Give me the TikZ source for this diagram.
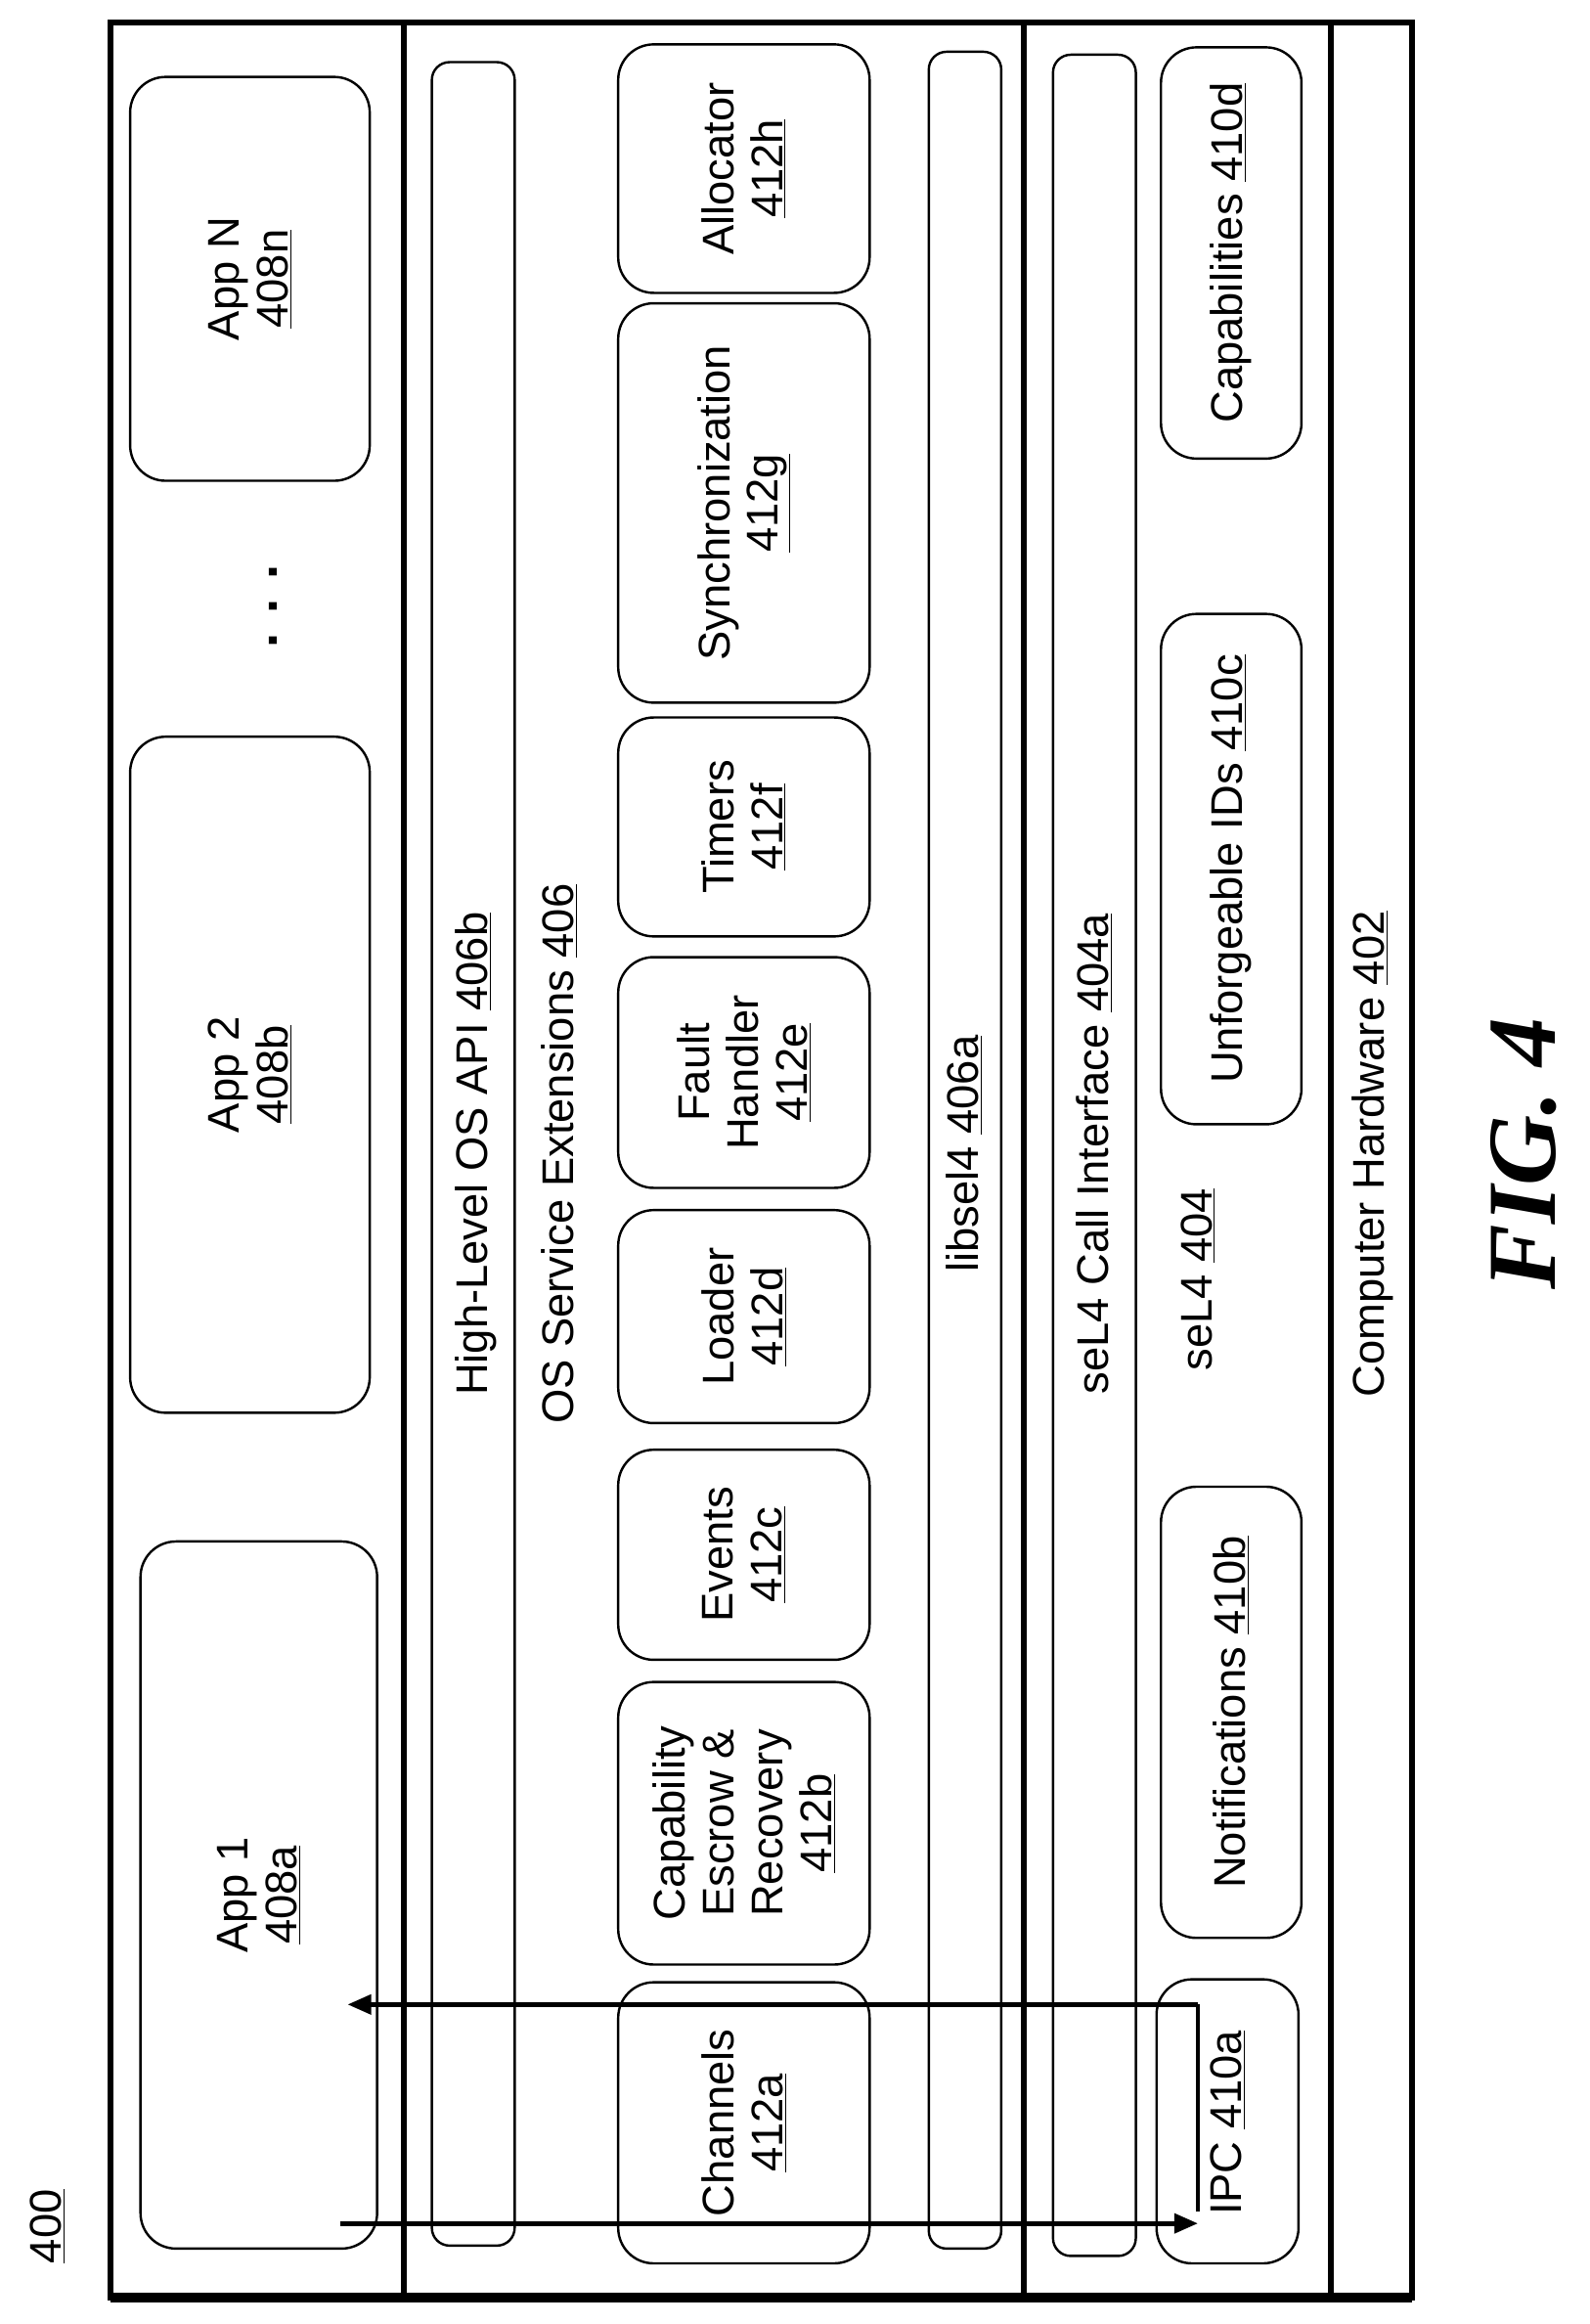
\documentclass[tikz,border=0pt]{standalone}
\usepackage{fontspec}
\setmainfont{Liberation Sans}
\newfontfamily\figfont{Liberation Serif}
\usetikzlibrary{fit,arrows.meta}
\tikzset{
  box/.style={draw, line width=1.6pt, rounded corners=24pt, inner sep=0pt},
  bar/.style={box, rounded corners=12pt},
  lbl/.style={rotate=90, align=center, font=\fontsize{30}{33}\selectfont, inner sep=0pt},
  thick line/.style={line width=4pt},
  arr/.style={line width=3.2pt, -{Triangle[length=16pt,width=13pt]}},
}
\newcommand{\bx}[6]{\node[box, fit={(#2,-#3) (#4,-#5)}] (#1) {}; \node[lbl] (#1t) at (#1) {#6};}
\newcommand{\br}[5]{\node[bar, fit={(#2,-#3) (#4,-#5)}] (#1) {};}
\begin{document}
\begin{tikzpicture}[x=1pt,y=1pt]
\useasboundingbox (0,0) rectangle (1075,-1571);
% frame
\draw[thick line] (75,-15) rectangle (955,-1553);
\draw[line width=7pt] (75,-1553) -- (955,-1553);
\draw[thick line] (273,-15) -- (273,-1553);
\draw[thick line] (692,-15) -- (692,-1553);
\draw[thick line] (900,-15) -- (900,-1553);
% apps
\bx{appn}{88}{52}{250}{325}{App N\\\underline{408n}}
\bx{app2}{88}{498}{250}{955}{App 2\\\underline{408b}}
\bx{app1}{95}{1042}{255}{1520}{App 1\\\underline{408a}}
\node[lbl,font=\fontsize{36}{36}\selectfont\bfseries] (dots) at (185,-410) {. . .};
% OS
\br{hl}{292}{42}{348}{1518}
\node[lbl] (hlt) at (322,-780) {High-Level OS API \underline{406b}};
\node[lbl] (ose) at (378,-780) {OS Service Extensions \underline{406}};
\br{lib}{628}{35}{677}{1520}
\node[lbl] (libt) at (652,-780) {libsel4 \underline{406a}};
\bx{alloc}{418}{30}{588}{198}{Allocator\\\underline{412h}}
\bx{sync}{418}{205}{588}{475}{Synchronization\\\underline{412g}}
\bx{tim}{418}{485}{588}{633}{Timers\\\underline{412f}}
\bx{fault}{418}{647}{588}{803}{Fault\\Handler\\\underline{412e}}
\bx{load}{418}{818}{588}{962}{Loader\\\underline{412d}}
\bx{ev}{418}{980}{588}{1122}{Events\\\underline{412c}}
\bx{cap}{418}{1137}{588}{1328}{Capability\\Escrow \&\\Recovery\\\underline{412b}}
\bx{chan}{418}{1340}{588}{1530}{Channels\\\underline{412a}}
% seL4
\br{sci}{712}{37}{768}{1525}
\node[lbl] (scit) at (740,-780) {seL4 Call Interface \underline{404a}};
\node[lbl] (sel4) at (810,-865) {seL4 \underline{404}};
\bx{capd}{785}{32}{880}{310}{Capabilities \underline{410d}}
\bx{unf}{785}{415}{880}{760}{Unforgeable IDs \underline{410c}}
\bx{notif}{785}{1005}{880}{1310}{Notifications \underline{410b}}
\bx{ipc}{782}{1338}{878}{1530}{}
\node[lbl] (ipct) at (830,-1435) {IPC \underline{410a}};
% hardware
\node[lbl] (hw) at (928,-780) {Computer Hardware \underline{402}};
% arrows
\coordinate (a1) at (230,-1503);
\coordinate (i1) at (810,-1503);
\coordinate (i2) at (810,-1355);
\coordinate (a2) at (235,-1355);
\draw[arr] (a1) -- (i1);
\draw[line width=3.2pt] (i1) ++(0,8) -- (i2);
\draw[arr] (i2) -- (a2);
% labels
\node[lbl,font=\fontsize{66}{66}\selectfont\figfont\bfseries\itshape] (fig) at (1030,-780) {FIG. 4};
\node[lbl] (n400) at (32,-1505) {\underline{400}};
\end{tikzpicture}
\end{document}
